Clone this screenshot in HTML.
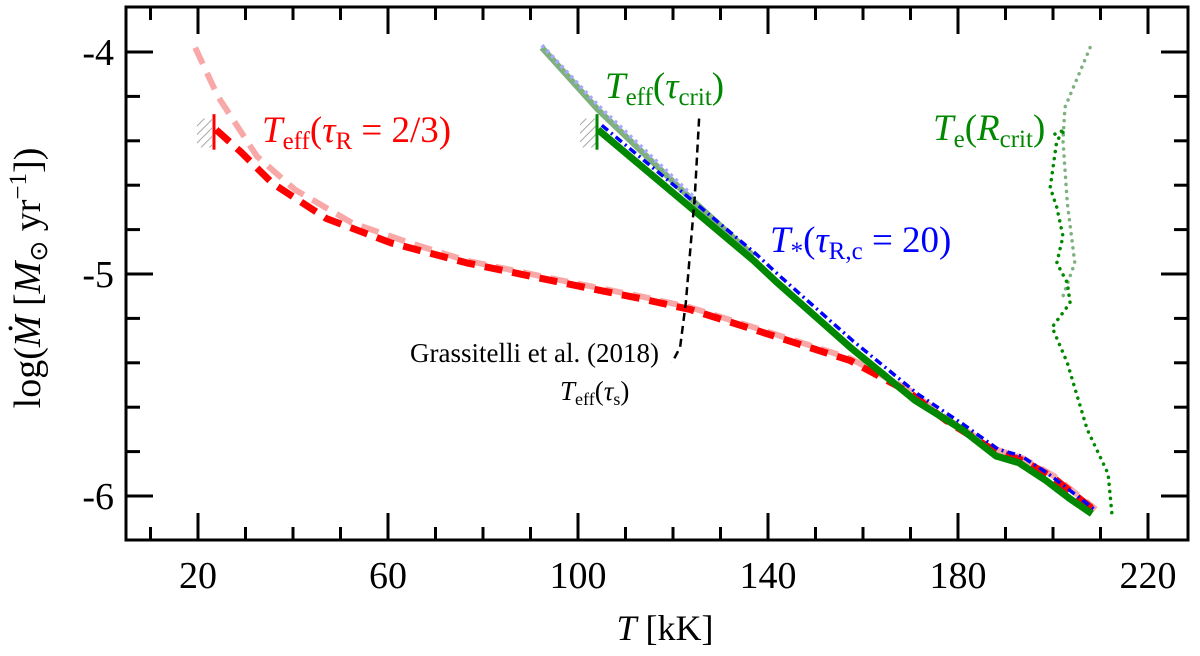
<!DOCTYPE html>
<html><head><meta charset="utf-8"><style>
body{margin:0;background:#fff;}
svg text{font-family:"Liberation Serif",serif;}
</style></head><body>
<svg id="chart" width="1200" height="651" viewBox="0 0 1200 651" xmlns="http://www.w3.org/2000/svg">
<defs>
<pattern id="hatch" patternUnits="userSpaceOnUse" width="6" height="6" patternTransform="rotate(45)">
<line x1="0" y1="0" x2="0" y2="6" stroke="#888" stroke-width="1.5"/></pattern>
</defs>
<g id="marks"></g>
<rect x="126" y="7" width="1062" height="533" fill="none" stroke="#000" stroke-width="3"/>
<g id="ticks"></g>
<text x="262" y="142" font-size="37" fill="#f00"><tspan font-style="italic">T</tspan><tspan font-size="25" dy="7">eff</tspan><tspan dy="-7">(</tspan><tspan font-style="italic">τ</tspan><tspan font-size="25" dy="7">R</tspan><tspan dy="-7"> = 2/3)</tspan></text>
<text x="605" y="98" font-size="37" fill="#080"><tspan font-style="italic">T</tspan><tspan font-size="25" dy="7">eff</tspan><tspan dy="-7">(</tspan><tspan font-style="italic">τ</tspan><tspan font-size="25" dy="7">crit</tspan><tspan dy="-7">)</tspan></text>
<text x="770" y="252" font-size="37" fill="#00f"><tspan font-style="italic">T</tspan><tspan font-size="25" dy="7">*</tspan><tspan dy="-7">(</tspan><tspan font-style="italic">τ</tspan><tspan font-size="25" dy="7">R,c</tspan><tspan dy="-7"> = 20)</tspan></text>
<text x="933" y="140" font-size="37" fill="#080"><tspan font-style="italic">T</tspan><tspan font-size="25" dy="7">e</tspan><tspan dy="-7">(</tspan><tspan font-style="italic">R</tspan><tspan font-size="25" dy="7">crit</tspan><tspan dy="-7">)</tspan></text>
<text x="410" y="362" font-size="27" fill="#000">Grassitelli et al. (2018)</text>
<text x="560" y="400" font-size="27" fill="#000"><tspan font-style="italic">T</tspan><tspan font-size="18" dy="5">eff</tspan><tspan dy="-5">(</tspan><tspan font-style="italic">τ</tspan><tspan font-size="18" dy="5">s</tspan><tspan dy="-5">)</tspan></text>
<text x="665" y="640" font-size="36" text-anchor="middle"><tspan font-style="italic">T</tspan> [kK]</text>
<text transform="translate(40,278) rotate(-90)" font-size="38" text-anchor="middle">log(<tspan font-style="italic">Ṁ</tspan> [<tspan font-style="italic">M</tspan><tspan font-size="25" dy="7">⊙</tspan><tspan dy="-7"> yr</tspan><tspan font-size="25" dy="-14">−1</tspan><tspan dy="14">])</tspan></text>
</svg>
<script>
const xTicks=[20,60,100,140,180,220];
const yTicks=[-4,-5,-6];
const redT=[23.8,29,35.6,47,60.6,76.6,96.8,113,123.6,137,157.3,169.5,177.5,188,193.7,200.2,209];
const redM=[-4.35,-4.45,-4.59,-4.75,-4.86,-4.95,-5.04,-5.11,-5.16,-5.25,-5.39,-5.53,-5.66,-5.80,-5.84,-5.92,-6.07];
const pinkT=[19.4,24.2,32.4,40.4,52.4,64.6,76.6,96.8,113,123.6,137,157.3,169.5,177.5,188,193.7,200.2,209];
const pinkM=[-3.98,-4.20,-4.47,-4.62,-4.77,-4.86,-4.94,-5.03,-5.10,-5.15,-5.24,-5.38,-5.52,-5.65,-5.79,-5.83,-5.91,-6.06];
const greenT=[104.2,124.2,137,142,157.3,171,180.8,188,192.8,198.5,203.4,208.2];
const greenM=[-4.35,-4.71,-4.94,-5.04,-5.33,-5.57,-5.70,-5.82,-5.85,-5.93,-6.01,-6.08];
const lgreenT=[92.4,104.2,124.2,137];
const lgreenM=[-3.98,-4.26,-4.67,-4.92];
const blueT=[105,124.7,137.5,142.5,157.8,171.5,181.3,188.5,193.3,199,203.9,208.7];
const blueM=[-4.33,-4.68,-4.91,-5.01,-5.30,-5.54,-5.68,-5.79,-5.82,-5.90,-5.98,-6.06];
const lblueT=[92.4,104.2,124.2];
const lblueM=[-3.97,-4.24,-4.65];
const grasT=[125.5,124.6,122.7,121.5,119.8];
const grasM=[-4.30,-4.65,-5.13,-5.33,-5.40];
const dotT=[200.4,202.5,200.8,199.4,200.8,202.1,200.8,203,203.6,199.8,203,207.2,211.6,212.4];
const dotM=[-4.37,-4.35,-4.40,-4.61,-4.70,-4.83,-4.95,-5.04,-5.13,-5.24,-5.40,-5.70,-5.90,-6.08];
const ldotT=[207.8,202.5,202.1,203,204.6,202.1];
const ldotM=[-3.98,-4.25,-4.40,-4.68,-4.95,-5.10];
const NS="http://www.w3.org/2000/svg";
function xs(t){return 198+(t-20)*4.75;}
function ys(v){return 52+(-4-v)*222;}
const marks=document.getElementById('marks');
const ticks=document.getElementById('ticks');
function mk(tag,attrs,parent){const e=document.createElementNS(NS,tag);for(const k in attrs)e.setAttribute(k,attrs[k]);parent.appendChild(e);return e;}
function line(T,M,name,stroke,w,dash,cap){
 const d=T.map((t,i)=>(i?'L':'M')+xs(t).toFixed(1)+','+ys(M[i]).toFixed(1)).join(' ');
 const p=mk('path',{d:d,fill:'none',stroke:stroke,'stroke-width':w,'stroke-dasharray':dash||'none','stroke-linejoin':'round','stroke-linecap':cap||'butt'},marks);
 
 
}
const h1=mk('rect',{x:197,y:ys(-4.3),width:15,height:ys(-4.43)-ys(-4.3),fill:'url(#hatch)'},marks);


const h2=mk('rect',{x:580,y:ys(-4.3),width:16,height:ys(-4.43)-ys(-4.3),fill:'url(#hatch)'},marks);


line(pinkT,pinkM,'series-pink-dashed','#f9a8a8',6,'18 10');
line(lgreenT,lgreenM,'series-lightgreen-solid','#7fb07f',6);
line(lblueT,lblueM,'series-lightblue-dotted','#a8a8ff',4,'3 4');
line(redT,redM,'series-red-dashed','#f00',7,'18 10');
line(blueT,blueM,'series-blue-dashdot','#00f',3.5,'8 4 2 4');
line(greenT,greenM,'series-green-solid','#080',7);
line(grasT,grasM,'series-grassitelli','#000',2.5,'8 5');
line(ldotT,ldotM,'series-lightgreen-dotted','#7fb07f',3.5,'0.1 7','round');
line(dotT,dotM,'series-green-dotted','#080',3.5,'0.1 7','round');
const m1=mk('line',{x1:214,x2:214,y1:ys(-4.28),y2:ys(-4.44),stroke:'#f00','stroke-width':3},marks);


const m2=mk('line',{x1:597,x2:597,y1:ys(-4.28),y2:ys(-4.44),stroke:'#080','stroke-width':3},marks);


for(let t=10;t<=230;t+=10){
 const x=xs(t); if(x<128||x>1186)continue;
 const major=(t-20)%40===0; const L=major?27:13;
 mk('line',{x1:x,x2:x,y1:540,y2:540-L,stroke:'#000','stroke-width':3},ticks);
 mk('line',{x1:x,x2:x,y1:7,y2:7+L,stroke:'#000','stroke-width':3},ticks);
}
xTicks.forEach(t=>{const e=mk('text',{x:xs(t),y:588,'font-size':38,'text-anchor':'middle'},ticks);e.textContent=t;
 
 });
for(let k=-2;k<=12;k++){const v=-3.6-k*0.2;const y=ys(v);if(y<9||y>538)continue;
 const major=Math.abs(v-Math.round(v))<1e-6; const L=major?27:14;
 mk('line',{x1:126,x2:126+L,y1:y,y2:y,stroke:'#000','stroke-width':3},ticks);
 mk('line',{x1:1188,x2:1188-L,y1:y,y2:y,stroke:'#000','stroke-width':3},ticks);}
yTicks.forEach(v=>{const e=mk('text',{x:114,y:ys(v)+13,'font-size':38,'text-anchor':'end'},ticks);e.textContent=v;
 
 });
</script>
</body></html>
